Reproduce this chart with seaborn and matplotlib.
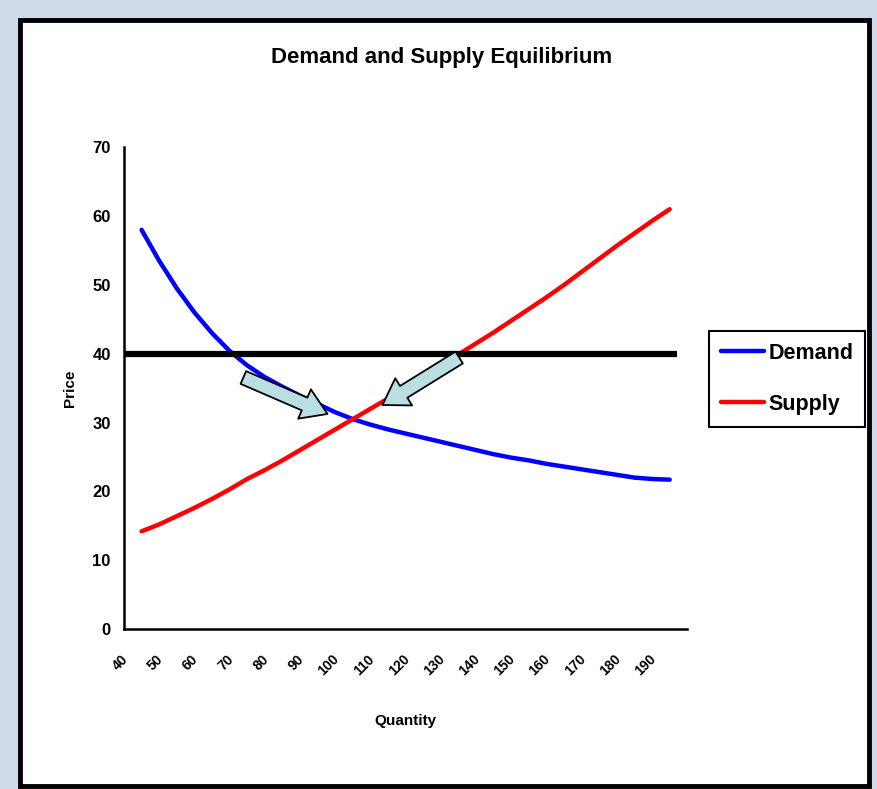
import matplotlib
matplotlib.use("Agg")
import matplotlib.pyplot as plt
import matplotlib.transforms as mtransforms
from matplotlib.patches import Rectangle
import pandas as pd
import seaborn as sns

# values
QUANTITY = [40, 45, 50, 55, 60, 65, 70, 75, 80, 85, 90, 95, 100, 105, 110, 115,
            120, 125, 130, 135, 140, 145, 150, 155, 160, 165, 170, 175, 180, 185, 190]
DEMAND = [58.0, 53.5, 49.5, 46.0, 43.0, 40.4, 38.3, 36.6, 35.2, 33.9, 32.7, 31.5,
          30.5, 29.7, 29.0, 28.4, 27.8, 27.2, 26.6, 26.0, 25.4, 24.9, 24.5, 24.0,
          23.6, 23.2, 22.8, 22.4, 22.0, 21.8, 21.7]
SUPPLY = [14.2, 15.2, 16.4, 17.6, 18.9, 20.3, 21.8, 23.1, 24.5, 26.0, 27.5, 29.0,
          30.5, 32.0, 33.5, 35.1, 36.7, 38.3, 39.9, 41.5, 43.1, 44.8, 46.5, 48.2,
          50.0, 51.9, 53.8, 55.7, 57.5, 59.3, 61.0]
SERIES = ["Demand", "Supply"]
COLORS = ["#0000ff", "#ff0000"]
PRICE_LEVEL = 40
Y_TICKS = [0, 10, 20, 30, 40, 50, 60, 70]
X_LABELS = list(range(40, 191, 10))
X_TICKS = list(range(35, 196, 5))

# arrows: (tail, tip) in data units
ARROWS = [((68.9, 36.55), (92.8, 31.25)),
          ((130.2, 39.45), (108.4, 32.55))]

W, H = 877, 789
FONT = ["Liberation Sans", "DejaVu Sans"]

sns.set_style("white")
plt.rcParams["font.family"] = FONT
for key in ["text.color", "axes.labelcolor", "xtick.color", "ytick.color"]:
    plt.rcParams[key] = "black"

fig = plt.figure(figsize=(W / 100, H / 100), dpi=100)
fig.patch.set_facecolor("#cfdbeb")

# white chart panel with black border
panel = Rectangle((20 / W, 1 - 786 / H), 849 / W, 766 / H, transform=fig.transFigure,
                  facecolor="white", edgecolor="black", lw=3.5, zorder=-5)
fig.add_artist(panel)

ax = fig.add_axes([124 / W, 1 - 629 / H, (687.3 - 124) / W, (629 - 147.3) / H])
ax.set_facecolor("white")

df = pd.DataFrame({
    "Quantity": QUANTITY * 2,
    "Price": DEMAND + SUPPLY,
    "Series": [SERIES[0]] * len(QUANTITY) + [SERIES[1]] * len(QUANTITY),
})
sns.lineplot(data=df, x="Quantity", y="Price", hue="Series",
             palette=dict(zip(SERIES, COLORS)), lw=3.2, ax=ax)

ax.hlines(PRICE_LEVEL, 35, 192, colors="black", lw=4.5, zorder=3)

for tail, tip in ARROWS:
    ax.annotate("", xy=tip, xytext=tail,
                arrowprops=dict(arrowstyle="simple,head_length=0.9,head_width=1.15,tail_width=0.5",
                                fc="#b9dfe2", ec="black", lw=1.3, shrinkA=0, shrinkB=0,
                                mutation_scale=20),
                zorder=4)

ax.set_xlim(35, 195)
ax.set_ylim(0, 70)
ax.set_yticks(Y_TICKS)
ax.set_xticks(X_TICKS)
ax.set_xticklabels([str(t) if t in X_LABELS else "" for t in X_TICKS])

for side in ["top", "right"]:
    ax.spines[side].set_visible(False)
for side in ["left", "bottom"]:
    ax.spines[side].set_color("black")
    ax.spines[side].set_linewidth(1.8)

ax.tick_params(axis="both", direction="out", length=4.5, width=1.4, color="black")
ax.tick_params(axis="y", pad=5, labelsize=12)
ax.tick_params(axis="x", pad=12, labelsize=10)
for lab in ax.get_yticklabels():
    lab.set_fontweight("bold")
shift = mtransforms.ScaledTranslation(-11 / 100, 0, fig.dpi_scale_trans)
for lab in ax.get_xticklabels():
    lab.set_fontweight("bold")
    lab.set_rotation(45)
    lab.set_ha("right")
    lab.set_va("top")
    lab.set_transform(lab.get_transform() + shift)

ax.set_xlabel("Quantity", fontsize=11, fontweight="bold")
ax.set_ylabel("Price", fontsize=11, fontweight="bold")
ax.xaxis.set_label_coords(0.5, (629 - 714) / (629 - 147.3))
ax.yaxis.set_label_coords(-0.083, 0.5)

sns.move_legend(ax, loc="upper left", bbox_to_anchor=(709 / W, 1 - 331 / H),
                bbox_transform=fig.transFigure, title=None, frameon=True,
                fancybox=False, framealpha=1, edgecolor="black", borderaxespad=0,
                borderpad=0.55, labelspacing=1.4, handlelength=2.0, handletextpad=0.2,
                prop=dict(weight="bold", size=15.5))
ax.get_legend().get_frame().set_linewidth(1.5)

fig.text(442 / W, 1 - 58 / H, "Demand and Supply Equilibrium", ha="center", va="center",
         fontsize=16, fontweight="bold")

fig.savefig("out.png", dpi=100, facecolor=fig.get_facecolor())
